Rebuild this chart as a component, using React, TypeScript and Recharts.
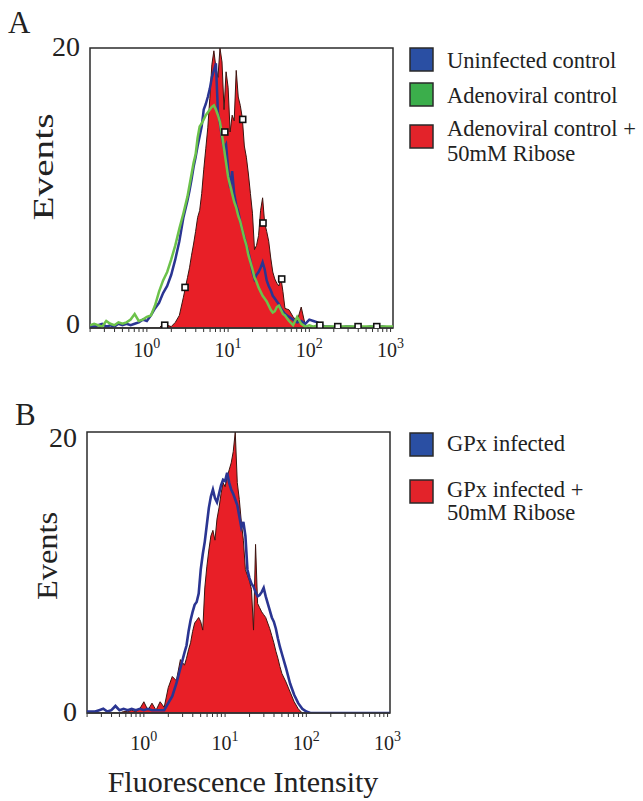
import React from 'react';
import { ComposedChart, Area, Line, Scatter, XAxis, YAxis, ReferenceArea } from 'recharts';

const SERIF = '"Liberation Serif", "Times New Roman", Times, serif';

// log10 of fluorescence intensity (channel position)
const exponents = [
  -0.7, -0.65, -0.6, -0.55, -0.5, -0.45, -0.4, -0.35, -0.3, -0.25, -0.2, -0.15, -0.1, -0.05, 0, 0.05, 0.1, 0.15, 0.2, 0.25, 0.3, 0.35, 0.4, 0.45,
  0.5, 0.525, 0.55, 0.575, 0.6, 0.625, 0.65, 0.675, 0.7, 0.725, 0.75, 0.775, 0.8, 0.825, 0.85, 0.875, 0.9, 0.925, 0.95, 0.975,
  1, 1.025, 1.05, 1.075, 1.1, 1.125, 1.15, 1.175, 1.2, 1.225, 1.25, 1.275, 1.3, 1.325, 1.35, 1.375, 1.4, 1.425, 1.45, 1.475,
  1.5, 1.525, 1.55, 1.575, 1.6, 1.625, 1.65, 1.675, 1.7,
  1.75, 1.8, 1.85, 1.9, 1.95, 2, 2.05, 2.1, 2.15, 2.2, 2.25, 2.3, 2.35, 2.4, 2.45, 2.5, 2.55, 2.6, 2.65, 2.7, 2.75, 2.8, 2.85, 2.9, 2.95, 3,
  3.03,
];

// Panel A
const uninfectedA = [
  0.1, 0.1, 0.2, 0.3, 0.1, 0.2, 0.1, 0.3, 0.2, 0.3, 0.2, 0.3, 0.4, 0.6, 0.5, 0.9, 1.4, 1.8, 2.5, 3.0, 3.8, 4.9, 6.2, 7.9,
  9.1, 9.8, 10.6, 11.5, 12.2, 13.0, 13.7, 14.4, 15.6, 16.0, 16.5, 17.1, 17.9, 18.4, 18.9, 15.4, 14.6, 13.6, 12.8, 13.1,
  11.4, 10.0, 11.2, 9.6, 8.8, 8.3, 7.6, 7.0, 6.5, 5.9, 5.4, 4.8, 4.0, 3.5, 3.8, 4.0, 4.3, 4.7, 4.2, 3.4,
  3.0, 2.7, 2.3, 2.1, 1.9, 1.7, 1.4, 1.2, 1.0,
  0.8, 0.6, 0.4, 0.5, 0.3, 0.6, 0.5, 0.4, 0.2, 0.1, 0.1, 0.05, 0.1, 0.05, 0.1, 0.1, 0.05, 0.1, 0.05, 0.05, 0.1, 0.05, 0.05, 0.1, 0.05, 0.05,
  0.05,
];
const adenoviralA = [
  0.2, 0.3, 0.2, 0.1, 0.5, 0.3, 0.2, 0.4, 0.3, 0.4, 0.6, 1.0, 0.5, 0.6, 0.8, 0.9, 1.6, 2.6, 3.4, 4.0, 4.9, 5.9, 7.1, 8.2,
  9.4, 10.2, 11.0, 11.8, 12.4, 13.6, 14.4, 14.6, 14.9, 15.2, 15.4, 15.6, 15.8, 15.9, 15.6, 15.2, 14.7, 13.8, 12.8, 11.8,
  10.8, 10.2, 9.6, 9.0, 8.6, 8.0, 7.6, 7.0, 6.4, 5.9, 5.2, 4.7, 4.2, 3.6, 3.3, 2.9, 2.6, 2.3, 2.1, 1.9,
  1.6, 1.3, 1.1, 1.2, 1.5, 1.6, 1.3, 1.0, 0.9,
  0.5, 0.2, 0.8, 0.3, 0.1, 0.2, 0.1, 0.2, 0.1, 0.1, 0.1, 0.1, 0.1, 0.1, 0.1, 0.1, 0.1, 0.1, 0.1, 0.1, 0.1, 0.1, 0.1, 0.1, 0.1, 0.1,
  0.1,
];
const riboseA = [
  0, 0, 0, 0, 0, 0, 0, 0, 0, 0, 0, 0, 0, 0, 0, 0, 0, 0, 0.3, 0.2, 0.1, 0.4, 0.9, 2.2,
  3.6, 4.3, 5.2, 6.0, 6.9, 7.9, 8.4, 9.6, 11.3, 12.8, 14.3, 16.4, 18.8, 19.8, 18.6, 17.9, 20, 19.0, 15.6, 18.3,
  17.2, 14.0, 15.2, 14.8, 18.4, 16.5, 15.9, 15.0, 13.0, 12.2, 11.0, 9.6, 8.2, 5.6, 5.9, 6.6, 8.4, 9.3, 7.5, 6.9,
  6.2, 5.0, 4.0, 3.5, 3.2, 3.0, 3.6, 2.6, 1.4,
  1.3, 0.8, 0.5, 1.5, 0.2, 0, 0, 0, 0, 0, 0, 0, 0, 0, 0, 0, 0, 0, 0, 0, 0, 0, 0, 0, 0, 0,
  0,
];
const markerExpA = [0.22, 0.47, 0.96, 1.18, 1.43, 1.66, 2.13, 2.35, 2.6, 2.83];
const markerValA = [0.2, 2.9, 14.0, 14.9, 7.5, 3.5, 0.2, 0.1, 0.1, 0.1];

// Panel B
const gpxB = [
  0.1, 0.1, 0.1, 0.2, 0.3, 0.1, 0.2, 0.5, 0.2, 0.3, 0.2, 0.3, 0.2, 0.3, 0.2, 0.3, 0.2, 0.2, 0.2, 0.2, 0.7, 1.2, 2.1, 3.2,
  4.3, 4.8, 5.8, 6.6, 7.2, 7.7, 7.9, 8.5, 10.2, 11.3, 12.2, 13.4, 14.6, 15.4, 15.9, 15.3, 15.0, 15.6, 16.2, 16.6,
  16.5, 17.1, 16.4, 15.9, 15.6, 15.2, 14.8, 14.0, 13.2, 13.6, 12.6, 10.2, 9.6, 9.2, 9.0, 8.6, 8.3, 8.4, 8.6, 8.9,
  8.3, 7.8, 7.3, 6.8, 6.5, 6.0, 5.3, 4.7, 4.2,
  3.2, 2.1, 1.3, 0.7, 0.3, 0.1, 0, 0, 0, 0, 0, 0, 0, 0, 0, 0, 0, 0, 0, 0, 0, 0, 0, 0, 0, 0,
  0,
];
const gpxRiboseB = [
  0, 0, 0, 0, 0, 0, 0, 0, 0, 0.1, 0.1, 0.2, 0.1, 0.3, 0.8, 0.2, 0.7, 0.2, 0.8, 0.4, 1.8, 2.6, 2.3, 3.8,
  3.4, 3.9, 4.5, 5.0, 5.8, 6.4, 6.6, 6.8, 6.5, 5.9, 8.9, 10.4, 11.6, 12.6, 13.0, 12.3, 13.8, 14.6, 15.6, 16.4,
  16.1, 16.8, 17.3, 17.8, 18.6, 20, 16.4, 15.2, 13.6, 12.3, 10.2, 9.8, 9.4, 8.8, 5.9, 12.0, 7.8, 7.5, 7.2, 7.0,
  6.8, 6.4, 6.0, 5.5, 5.0, 4.4, 3.9, 3.3, 2.8,
  2.2, 1.5, 0.8, 0.3, 0, 0, 0, 0, 0, 0, 0, 0, 0, 0, 0, 0, 0, 0, 0, 0, 0, 0, 0, 0, 0, 0,
  0,
];

const decadeTicks = [0, 1, 2, 3];
const minorMultipliers = [2, 3, 4, 5, 6, 7, 8, 9];
const yTicks = [0, 20];
const X_DOMAIN: [number, number] = [-0.7, 3.03];
const Y_DOMAIN: [number, number] = [0, 20];

const legendA = [
  { lines: ['Uninfected control'], color: '#2a4fa3' },
  { lines: ['Adenoviral control'], color: '#3bae4b' },
  { lines: ['Adenoviral control +', '50mM Ribose'], color: '#e3232a' },
];
const legendB = [
  { lines: ['GPx infected'], color: '#2a4fa3' },
  { lines: ['GPx infected +', '50mM Ribose'], color: '#e3232a' },
];

const RED = '#e81f27';
const RED_EDGE = '#3c1510';
const BLUE_LINE = '#2a3592';
const GREEN_LINE = '#6cc24a';

const allTicks = [
  ...decadeTicks,
  ...[-1, 0, 1, 2].flatMap((d) => minorMultipliers.map((m) => d + Math.log10(m))),
].filter((t) => t >= X_DOMAIN[0] - 1e-9 && t <= X_DOMAIN[1]).sort((a, b) => a - b);

const dataA = exponents.map((e, i) => ({ e, uninfected: uninfectedA[i], adeno: adenoviralA[i], ribose: riboseA[i] }));
const dataB = exponents.map((e, i) => ({ e, gpx: gpxB[i], gpxRibose: gpxRiboseB[i] }));
const markersA = markerExpA.map((e, i) => ({ e, v: markerValA[i] }));

const LogTick = (props: any) => {
  const { x, y, payload, dy } = props;
  const v = payload.value;
  if (!decadeTicks.includes(v)) return <g />;
  return (
    <text x={x} y={y + dy} textAnchor="middle" fontFamily={SERIF} fontSize={20} fill="#222">
      10
      <tspan dy={-9} fontSize={14}>
        {v}
      </tspan>
    </text>
  );
};

const YTick = (props: any) => {
  const { x, y, payload, offTop, offBottom } = props;
  const v = payload.value;
  return (
    <text x={x} y={y + (v === 0 ? offBottom : offTop)} textAnchor="end" fontFamily={SERIF} fontSize={28} fill="#222">
      {v}
    </text>
  );
};

const Square = (props: any) => {
  const { cx, cy } = props;
  if (cx == null || cy == null) return <g />;
  return <rect x={cx - 3} y={cy - 3} width={6} height={6} fill="#fff" stroke="#111" strokeWidth={1.6} />;
};

const Legend = ({ items, rowTops, baselines }: any) => (
  <g>
    {items.map((it: any, i: number) => (
      <g key={i}>
        <rect x={410} y={rowTops[i]} width={23} height={23} fill={it.color} stroke="#2a2a2a" strokeWidth={1.5} />
        {it.lines.map((ln: string, j: number) => (
          <text key={j} x={447} y={baselines[i][j]} fontFamily={SERIF} fontSize={22.5} fill="#222">
            {ln}
          </text>
        ))}
      </g>
    ))}
  </g>
);

export default function App() {
  return (
    <div style={{ position: 'absolute', left: 0, top: 0, width: 643, height: 801, background: '#fff', overflow: 'hidden' }}>
      <div style={{ position: 'absolute', left: 0, top: 0 }}>
        <ComposedChart width={643} height={380} data={dataA} margin={{ top: 48, right: 250, bottom: 2, left: 0 }}>
          <XAxis
            type="number"
            dataKey="e"
            domain={X_DOMAIN}
            ticks={allTicks}
            interval={0}
            allowDataOverflow
            height={50}
            tickSize={4}
            axisLine={{ stroke: '#333', strokeWidth: 1.5 }}
            tickLine={{ stroke: '#333' }}
            tick={(p: any) => <LogTick {...p} dy={23} />}
          />
          <YAxis
            type="number"
            domain={Y_DOMAIN}
            ticks={yTicks}
            allowDataOverflow
            width={90}
            tickSize={0}
            tickMargin={10}
            axisLine={false}
            tickLine={false}
            tick={(p: any) => <YTick {...p} offTop={8} offBottom={5} />}
          />
          <Area dataKey="ribose" type="linear" fill={RED} fillOpacity={1} stroke={RED_EDGE} strokeWidth={1} isAnimationActive={false} />
          <Line dataKey="uninfected" type="linear" stroke={BLUE_LINE} strokeWidth={2.5} dot={false} isAnimationActive={false} />
          <Line dataKey="adeno" type="linear" stroke={GREEN_LINE} strokeWidth={2.5} dot={false} isAnimationActive={false} />
          <Scatter data={markersA} dataKey="v" shape={Square} isAnimationActive={false} />
          <ReferenceArea x1={X_DOMAIN[0]} x2={X_DOMAIN[1]} y1={0} y2={20} fill="none" stroke="#2b2b2b" strokeWidth={1.5} ifOverflow="visible" />
        </ComposedChart>
      </div>
      <div style={{ position: 'absolute', left: 0, top: 385 }}>
        <ComposedChart width={643} height={380} data={dataB} margin={{ top: 47, right: 253, bottom: 2, left: 0 }}>
          <XAxis
            type="number"
            dataKey="e"
            domain={X_DOMAIN}
            ticks={allTicks}
            interval={0}
            allowDataOverflow
            height={50}
            tickSize={4}
            axisLine={{ stroke: '#333', strokeWidth: 1.5 }}
            tickLine={{ stroke: '#333' }}
            tick={(p: any) => <LogTick {...p} dy={31} />}
          />
          <YAxis
            type="number"
            domain={Y_DOMAIN}
            ticks={yTicks}
            allowDataOverflow
            width={87}
            tickSize={0}
            tickMargin={10}
            axisLine={false}
            tickLine={false}
            tick={(p: any) => <YTick {...p} offTop={15} offBottom={8} />}
          />
          <Area dataKey="gpxRibose" type="linear" fill={RED} fillOpacity={1} stroke={RED_EDGE} strokeWidth={1} isAnimationActive={false} />
          <Line dataKey="gpx" type="linear" stroke={BLUE_LINE} strokeWidth={2.6} dot={false} isAnimationActive={false} />
          <ReferenceArea x1={X_DOMAIN[0]} x2={X_DOMAIN[1]} y1={0} y2={20} fill="none" stroke="#2b2b2b" strokeWidth={1.5} ifOverflow="visible" />
        </ComposedChart>
      </div>
      <svg width={643} height={801} style={{ position: 'absolute', left: 0, top: 0, pointerEvents: 'none' }}>
        <text x={8} y={33} fontFamily={SERIF} fontSize={31} fill="#222">A</text>
        <text x={15} y={425} fontFamily={SERIF} fontSize={31} fill="#222">B</text>
        <text transform="translate(53,167) rotate(-90)" textAnchor="middle" fontFamily={SERIF} fontSize={30} fill="#222" textLength={107} lengthAdjust="spacingAndGlyphs">Events</text>
        <text transform="translate(57,556) rotate(-90)" textAnchor="middle" fontFamily={SERIF} fontSize={30} fill="#222" textLength={88} lengthAdjust="spacingAndGlyphs">Events</text>
        <text x={243} y={792} textAnchor="middle" fontFamily={SERIF} fontSize={30} fill="#222">Fluorescence Intensity</text>
        <Legend items={legendA} rowTops={[48, 83, 125]} baselines={[[68], [103], [136, 161]]} />
        <Legend items={legendB} rowTops={[433, 480]} baselines={[[451], [497, 520]]} />
      </svg>
    </div>
  );
}
